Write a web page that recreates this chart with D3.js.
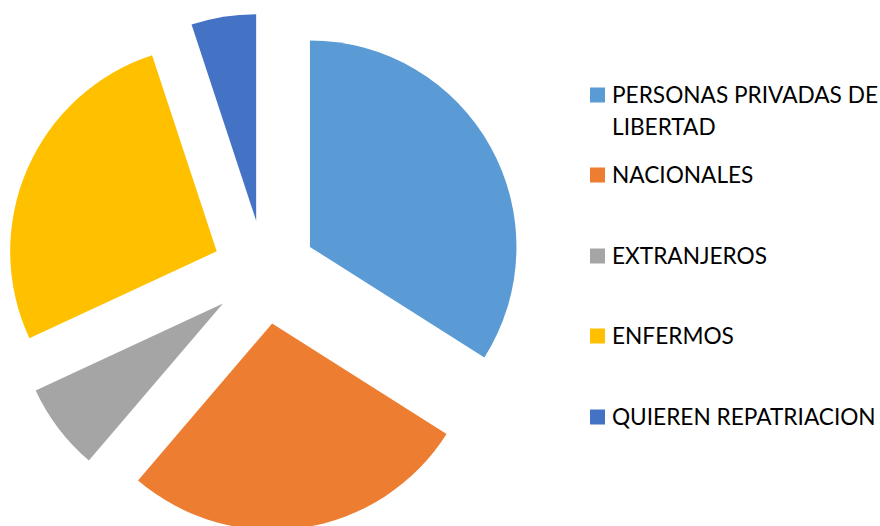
<!DOCTYPE html>
<html>
<head>
<meta charset="utf-8">
<script src="https://cdn.jsdelivr.net/npm/d3@7"></script>
<style>
html,body{margin:0;padding:0;background:#fff;}
svg{display:block;}
</style>
</head>
<body>
<svg id="chart" width="880" height="526"></svg>
<script>
const categories = ["PERSONAS PRIVADAS DE LIBERTAD", "NACIONALES", "EXTRANJEROS", "ENFERMOS", "QUIEREN REPATRIACION"];
const values = [1000, 802, 201, 790, 149];
const colors = ["#5B9BD5", "#ED7D31", "#A5A5A5", "#FFC000", "#4472C4"];

const svg = d3.select("#chart");
const cx = 264.4, cy = 272, radius = 206.5, explode = 52;

const pie = d3.pie().sort(null).value(d => d)(values);
const arc = d3.arc().innerRadius(0).outerRadius(radius);

const g = svg.append("g").attr("transform", `translate(${cx},${cy})`);
g.selectAll("path").data(pie).join("path")
  .attr("d", arc)
  .attr("fill", (d, i) => colors[i])
  .attr("transform", d => {
    const m = (d.startAngle + d.endAngle) / 2;
    return `translate(${explode * Math.sin(m)},${-explode * Math.cos(m)})`;
  });

// legend
const legendX = 590, textX = 612, sq = 15;
const itemCenters = [95, 175, 256, 336, 417];
const font = "Lato, 'Open Sans', sans-serif";

// fit font size to the reference text widths
const measure = s => {
  const p = svg.append("text").attr("font-family", font).attr("font-size", 20).text(s);
  const w = p.node().getComputedTextLength();
  p.remove();
  return w;
};
const wAvg = (measure("QUIEREN REPATRIACION") + measure("PERSONAS PRIVADAS DE")) / 2;
const fs = 20 * 265 / wAvg;

const lines = [["PERSONAS PRIVADAS DE", "LIBERTAD"], ["NACIONALES"], ["EXTRANJEROS"], ["ENFERMOS"], ["QUIEREN REPATRIACION"]];
const lg = svg.append("g");
categories.forEach((c, i) => {
  const yc = itemCenters[i];
  lg.append("rect").attr("x", legendX).attr("y", yc - sq / 2).attr("width", sq).attr("height", sq).attr("fill", colors[i]);
  const t = lg.append("text").attr("font-family", font).attr("font-size", fs).attr("fill", "#000");
  lines[i].forEach((ln, j) => {
    t.append("tspan").attr("x", textX).attr("y", yc + 7.7 + j * 32.3).text(ln);
  });
});
</script>
</body>
</html>
